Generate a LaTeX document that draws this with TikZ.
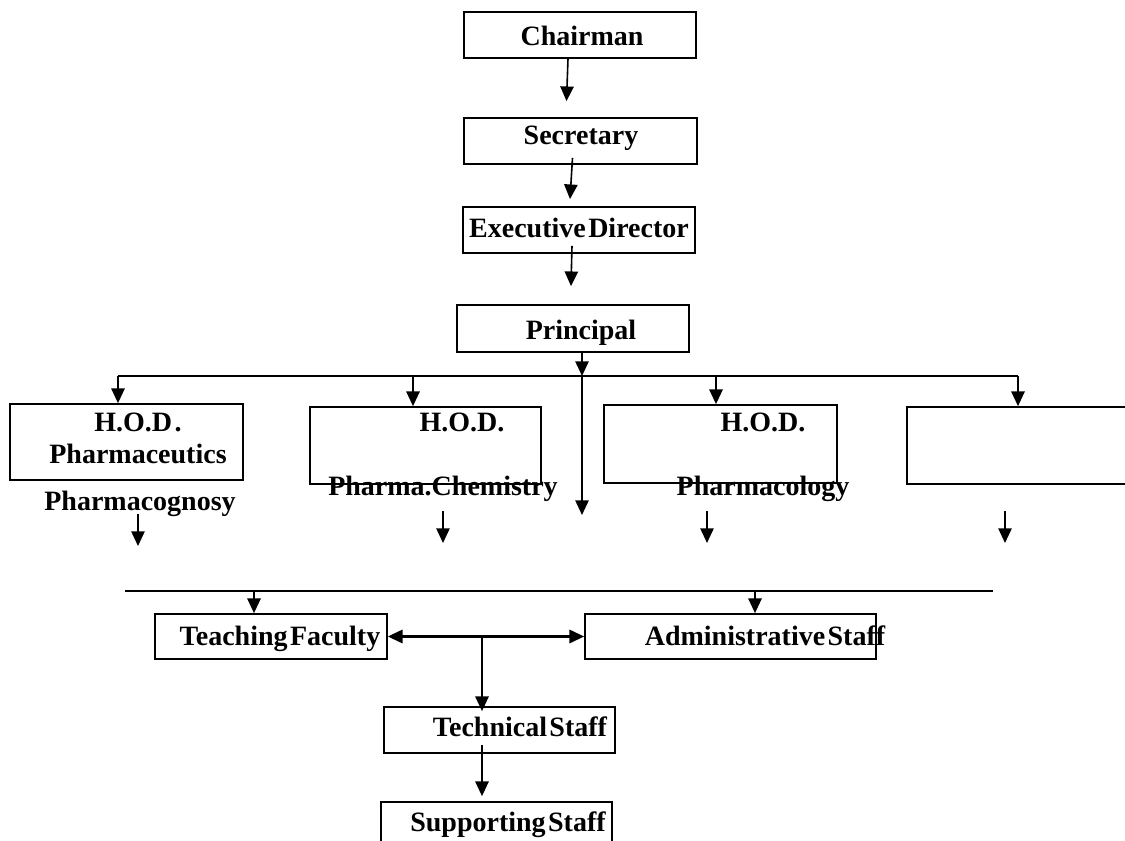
\documentclass[tikz,border=0pt]{standalone}
\usepackage{fontspec}
\setmainfont{Liberation Serif}[WordSpace=0.35]
\usetikzlibrary{arrows.meta,calc}
\begin{document}
\begin{tikzpicture}[x=0.75pt,y=-0.75pt,
  box/.style={draw,line width=1.3pt,inner sep=0pt},
  txt/.style={inner sep=0pt,anchor=base,font=\fontsize{21}{25}\selectfont\bfseries},
  ln/.style={line width=1.2pt},
  arr/.style={line width=1.2pt,-{Triangle[length=11pt,width=10pt]}},
  darr/.style={line width=1.6pt,{Triangle[length=11pt,width=10pt]}-{Triangle[length=11pt,width=10pt]}}]
\clip (0,0) rectangle (1125,841);
\fill[white] (0,0) rectangle (1125,841);

% top chain
\node[box,minimum width=174pt,minimum height=34.5pt] (chair) at (580,35) {};
\node[txt] (tchair) at (582,46) {Chairman};
\node[box,minimum width=174.75pt,minimum height=34.5pt] (sec) at (580.5,141) {};
\node[txt] (tsec) at (581,145) {Secretary};
\node[box,minimum width=174pt,minimum height=34.5pt] (exec) at (579,230) {};
\node[txt] (texec) at (579,238) {Executive Director};
\node[box,minimum width=174pt,minimum height=35.25pt] (princ) at (573,328.5) {};
\node[txt] (tprinc) at (581,340) {Principal};

\draw[arr] ($(chair.south)+(-12,0)$) -- ($(sec.north)+(-14,-16)$);
\draw[arr] ($(sec.south)+(-8,-7)$) -- ($(exec.north)+(-9,-7)$);
\draw[arr] ($(exec.south)+(-7,-8)$) -- ($(princ.north)+(-2,-18)$);

% HOD row
\node[box,minimum width=174.75pt,minimum height=57pt] (b1) at (126.5,442) {};
\node[txt] (t1a) at (138,432) {H.O.D .};
\node[txt] (t1b) at (138,464) {Pharmaceutics};
\node[txt] (t1c) at (140,511) {Pharmacognosy};
\node[box,minimum width=173.25pt,minimum height=57.75pt] (b2) at (425.5,445.5) {};
\node[txt] (t2a) at (462,432) {H.O.D.};
\node[txt] (t2b) at (443,496) {Pharma.Chemistry};
\node[box,minimum width=174.75pt,minimum height=58.5pt] (b3) at (720.5,444) {};
\node[txt] (t3a) at (763,432) {H.O.D.};
\node[txt] (t3b) at (763,496) {Pharmacology};
\node[box,minimum width=174pt,minimum height=57.75pt] (b4) at (1023,445.5) {};

\coordinate (hub) at (582,376);
\coordinate (ptip) at (582,515);
\coordinate (busL) at (118,376);
\coordinate (busR) at (1018,376);
\coordinate (bus2) at (413,376);
\coordinate (bus3) at (716,376);
\draw[arr] (princ.south -| hub) -- (hub);
\draw[arr] (hub) -- (ptip);
\draw[ln] (busL) -- (busR);
\draw[arr] (busL) -- (busL |- b1.north);
\draw[arr] (bus2) -- (bus2 |- b2.north);
\draw[arr] (bus3) -- (bus3 |- b3.north);
\draw[arr] (busR) -- (busR |- b4.north);

% small arrows
\coordinate (s1a) at (138,514); \coordinate (s1b) at (138,546);
\coordinate (s2a) at (443,511); \coordinate (s2b) at (443,543);
\coordinate (s3a) at (707,511); \coordinate (s3b) at (707,543);
\coordinate (s4a) at (1005,511); \coordinate (s4b) at (1005,543);
\draw[arr] (s1a) -- (s1b);
\draw[arr] (s2a) -- (s2b);
\draw[arr] (s3a) -- (s3b);
\draw[arr] (s4a) -- (s4b);

% lower part
\coordinate (l2a) at (125,591);
\coordinate (l2b) at (993,591);
\draw[ln] (l2a) -- (l2b);
\node[box,minimum width=174pt,minimum height=33.75pt] (teach) at (271,636.5) {};
\node[txt] (tteach) at (280,645) {Teaching Faculty};
\node[box,minimum width=218.25pt,minimum height=33.75pt] (admin) at (730.5,636.5) {};
\node[txt] (tadmin) at (765,645) {Administrative Staff};
\coordinate (ta) at (254,591);
\coordinate (aa) at (755,591);
\draw[arr] (ta) -- (ta |- teach.north);
\draw[arr] (aa) -- (aa |- admin.north);
\draw[darr] (teach.east) -- (admin.west);

\node[box,minimum width=173.25pt,minimum height=34.5pt] (tech) at (499.5,730) {};
\node[txt] (ttech) at (520,736) {Technical Staff};
\node[box,minimum width=173.25pt,minimum height=45pt] (supp) at (496.5,832) {};
\node[txt] (tsupp) at (508,831) {Supporting Staff};

\coordinate (branch) at (482,636.5);
\draw[arr] (branch) -- ($(tech.north)+(-17.5,5)$);
\draw[arr] ($(tech.south)+(-17.5,-9)$) -- ($(supp.north)+(-14.5,-5)$);
\end{tikzpicture}
\end{document}
